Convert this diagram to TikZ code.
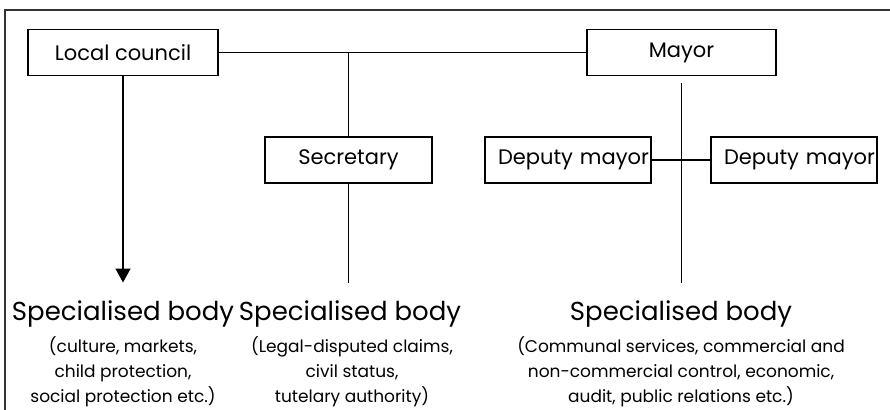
\documentclass[tikz,border=0pt]{standalone}
\usepackage{fontspec}
\setmainfont{Poppins}
\usetikzlibrary{arrows.meta}

\begin{document}
\begin{tikzpicture}[x=1pt,y=-1pt,line width=1.4pt,>={Triangle[width=15pt,length=14pt]},
box/.style={draw,rectangle,minimum height=46pt,inner sep=0pt,font=\fontsize{21}{24}\selectfont},
deputy/.style={box,text width=140pt,inner xsep=13pt,align=left},
title/.style={anchor=base,inner sep=0pt,font=\fontsize{26}{30}\selectfont},
descr/.style={inner sep=0pt,align=center,font=\fontsize{17}{23}\selectfont}]

\useasboundingbox (0,0) rectangle (890,409);
\draw[line width=2pt,black!80] (5,10) rectangle (900,420);

\node[box,minimum width=190pt] (lc) at (123,52.5) {Local council};
\node[box,minimum width=189pt] (mayor) at (681.5,52.5) {Mayor};
\node[box,minimum width=167pt] (sec) at (348.5,160) {Secretary};
\node[deputy] (dm1) at (568,160) {Deputy~mayor};
\node[deputy] (dm2) at (794,160) {Deputy~mayor};

\node[title] (t1) at (123,320) {Specialised body};
\node[title] (t2) at (350,320) {Specialised body};
\node[title] (t3) at (681,320) {Specialised body};
\node[descr,anchor=north] (d1) at (123,336) {(culture, markets,\\[2pt]child protection,\\[2pt]social protection etc.)};
\node[descr,anchor=north] (d2) at (352,336) {(Legal-disputed claims,\\[2pt]civil status,\\[2pt]tutelary authority)};
\node[descr,anchor=north] (d3) at (681,336) {(Communal services, commercial and\\[2pt]non-commercial control, economic,\\[2pt]audit, public relations etc.)};

% links
\draw (lc) -- (mayor);
\draw (lc -| sec) -- (sec);
\draw[->] (lc) -- (lc |- t1.north) [shorten >=17pt];
\draw (sec) -- (sec |- t2.north) [shorten >=17pt];
\draw (mayor.south) ++(0,7) coordinate (ms) -- (ms |- t3.north) [shorten >=17pt];
\draw (dm1) -- (dm2);
\end{tikzpicture}
\end{document}
